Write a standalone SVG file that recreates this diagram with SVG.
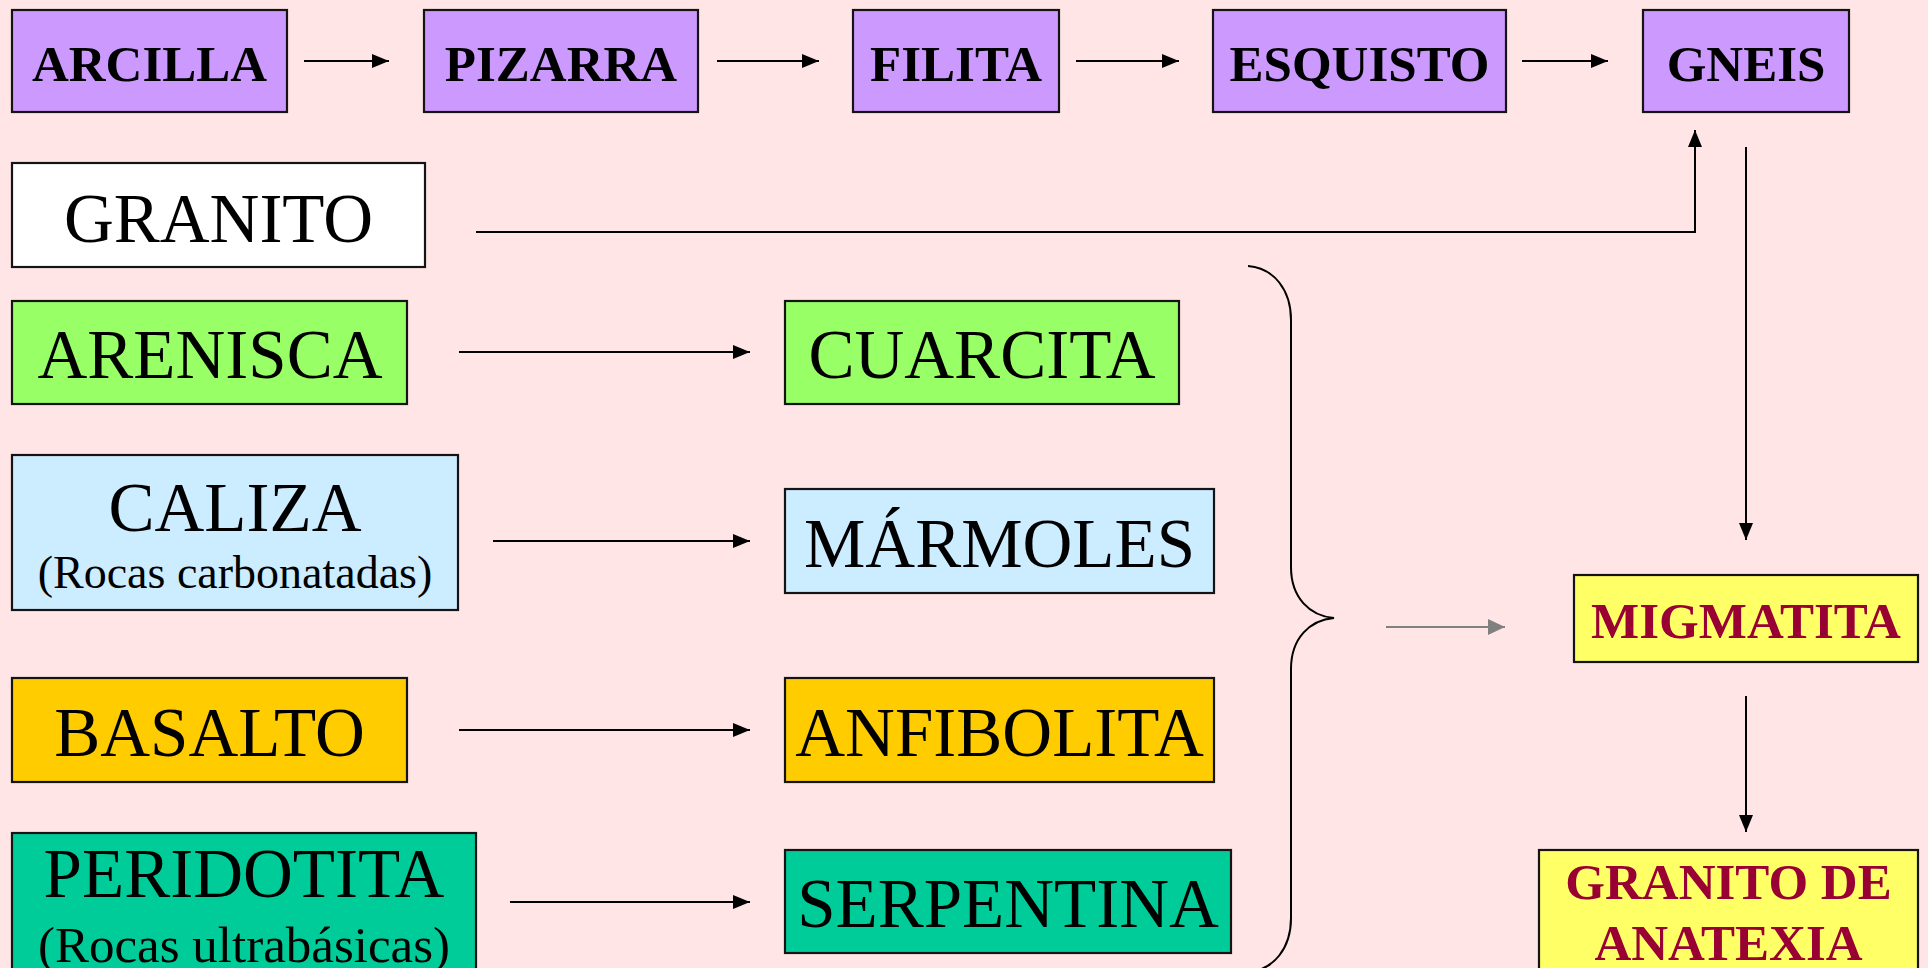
<svg xmlns="http://www.w3.org/2000/svg" width="1928" height="968" viewBox="0 0 1928 968">
<defs>
<style>
.box{stroke:#141414;stroke-width:2.2}
.t{font-family:"Liberation Serif","Times New Roman",serif;text-anchor:middle;fill:#000}
.b{font-weight:bold;font-size:51px}
.r{font-size:69px}
.s{font-size:46px}
.s2{font-size:51px}
.red{fill:#990033}
.ln{stroke:#000;stroke-width:2;fill:none}
.gl{stroke:#808080;stroke-width:2;fill:none}
</style>
<marker id="ah" markerWidth="17" markerHeight="14" refX="17" refY="7" orient="auto" markerUnits="userSpaceOnUse">
<path d="M0,0 L17,7 L0,14 Z" fill="#000"/>
</marker>
<marker id="ahg" markerWidth="17" markerHeight="16" refX="17" refY="8" orient="auto" markerUnits="userSpaceOnUse">
<path d="M0,0 L17,8 L0,16 Z" fill="#808080"/>
</marker>
</defs>
<rect width="1928" height="968" fill="#FFE5E5"/>

<g id="arcilla"><rect class="box" x="12" y="10" width="275" height="102" fill="#CC99FF"/><text class="t b" x="149.5" y="81">ARCILLA</text></g>
<g id="pizarra"><rect class="box" x="424" y="10" width="274" height="102" fill="#CC99FF"/><text class="t b" x="561" y="81">PIZARRA</text></g>
<g id="filita"><rect class="box" x="853" y="10" width="206" height="102" fill="#CC99FF"/><text class="t b" x="956" y="81">FILITA</text></g>
<g id="esquisto"><rect class="box" x="1213" y="10" width="293" height="102" fill="#CC99FF"/><text class="t b" x="1359.5" y="81">ESQUISTO</text></g>
<g id="gneis"><rect class="box" x="1643" y="10" width="206" height="102" fill="#CC99FF"/><text class="t b" x="1746" y="81">GNEIS</text></g>

<g id="granito"><rect class="box" x="12" y="163" width="413" height="104" fill="#FFFFFF"/><text class="t r" x="218.5" y="242">GRANITO</text></g>

<g id="arenisca"><rect class="box" x="12" y="301" width="395" height="103" fill="#99FF66"/><text class="t r" x="210" y="378">ARENISCA</text></g>
<g id="cuarcita"><rect class="box" x="785" y="301" width="394" height="103" fill="#99FF66"/><text class="t r" x="982" y="378">CUARCITA</text></g>

<g id="caliza"><rect class="box" x="12" y="455" width="446" height="155" fill="#CCECFF"/><text class="t r" x="235" y="531">CALIZA</text><text class="t s" x="235" y="588">(Rocas carbonatadas)</text></g>
<g id="marmoles"><rect class="box" x="785" y="489" width="429" height="104" fill="#CCECFF"/><text class="t r" x="999.5" y="567">MÁRMOLES</text></g>

<g id="basalto"><rect class="box" x="12" y="678" width="395" height="104" fill="#FFCC00"/><text class="t r" x="209.5" y="756">BASALTO</text></g>
<g id="anfibolita"><rect class="box" x="785" y="678" width="429" height="104" fill="#FFCC00"/><text class="t r" x="999.5" y="756">ANFIBOLITA</text></g>

<g id="peridotita"><rect class="box" x="12" y="833" width="464" height="145" fill="#00CC99"/><text class="t r" x="244" y="897">PERIDOTITA</text><text class="t s2" x="244" y="962">(Rocas ultrabásicas)</text></g>
<g id="serpentina"><rect class="box" x="785" y="850" width="446" height="103" fill="#00CC99"/><text class="t r" x="1008" y="927">SERPENTINA</text></g>

<g id="migmatita"><rect class="box" x="1574" y="575" width="344" height="87" fill="#FFFF66"/><text class="t b red" x="1746" y="638">MIGMATITA</text></g>
<g id="granito-anatexia"><rect class="box" x="1539" y="850" width="379" height="130" fill="#FFFF66"/><text class="t b red" x="1728.5" y="899">GRANITO DE</text><text class="t b red" x="1728.5" y="960">ANATEXIA</text></g>

<g id="connectors">
<line class="ln" x1="304" y1="61" x2="389" y2="61" marker-end="url(#ah)"/>
<line class="ln" x1="717" y1="61" x2="819" y2="61" marker-end="url(#ah)"/>
<line class="ln" x1="1076" y1="61" x2="1179" y2="61" marker-end="url(#ah)"/>
<line class="ln" x1="1522" y1="61" x2="1608" y2="61" marker-end="url(#ah)"/>
<polyline class="ln" points="476,232 1695,232 1695,130" marker-end="url(#ah)"/>
<line class="ln" x1="1746" y1="147" x2="1746" y2="540" marker-end="url(#ah)"/>
<line class="ln" x1="459" y1="352" x2="750" y2="352" marker-end="url(#ah)"/>
<line class="ln" x1="493" y1="541" x2="750" y2="541" marker-end="url(#ah)"/>
<line class="ln" x1="459" y1="730" x2="750" y2="730" marker-end="url(#ah)"/>
<line class="ln" x1="510" y1="902" x2="750" y2="902" marker-end="url(#ah)"/>
<path class="ln" d="M1248,266 C1274,268 1291,290 1291,320 L1291,567 C1291,598 1310,616 1334,618 C1310,620 1291,638 1291,669 L1291,918 C1291,948 1274,970 1248,972"/>
<line class="gl" x1="1386" y1="627" x2="1505" y2="627" marker-end="url(#ahg)"/>
<line class="ln" x1="1746" y1="696" x2="1746" y2="832" marker-end="url(#ah)"/>
</g>
</svg>
